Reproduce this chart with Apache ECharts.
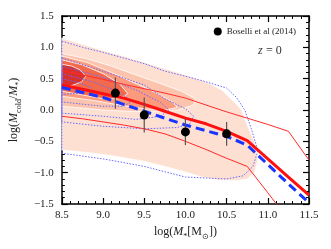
<!DOCTYPE html>
<html><head><meta charset="utf-8">
<script src="https://cdn.jsdelivr.net/npm/echarts@6/dist/echarts.min.js"></script>
<style>html,body{margin:0;padding:0;background:#fff}#c{width:331px;height:249px}</style>
</head><body><div id="c"></div>
<script>
// ---- data ----
const xTicks = [8.5, 9.0, 9.5, 10.0, 10.5, 11.0, 11.5];
const yTicks = [-1.5, -1.0, -0.5, 0.0, 0.5, 1.0, 1.5];
const massBins = [8.5, 8.75, 9.0, 9.25, 9.5, 9.75, 10.0, 10.25, 10.5, 10.75, 11.0, 11.25, 11.5];
const redMedian = [0.40, 0.33, 0.26, 0.19, 0.09, -0.02, -0.13, -0.22, -0.34, -0.49, -0.78, -1.07, -1.36];
const redUpper = [0.63, 0.56, 0.49, 0.41, 0.34, 0.27, 0.19, 0.08, -0.03, -0.13, -0.23, -0.34, -0.80];
const redLower = [-0.10, -0.14, -0.19, -0.24, -0.30, -0.38, -0.50, -0.63, -0.77, -0.90, -1.32, -1.75, null];
const blueMedian = [0.36, 0.28, 0.20, 0.09, -0.02, -0.13, -0.24, -0.33, -0.42, -0.56, -0.87, -1.18, -1.48];
const obsX = [9.15, 9.5, 10.0, 10.5];
const obsY = [0.27, -0.08, -0.35, -0.38];
const obsErr = [0.25, 0.28, 0.21, 0.19];
const fillL1 = [[8.5,1.15],[8.75,1.05],[9.0,0.95],[9.25,0.86],[9.5,0.76],[9.75,0.66],[10.0,0.56],[10.25,0.45],[10.44,0.32],[10.6,0.12],[10.68,0.0],[10.77,-0.3],[10.85,-0.55],[10.88,-0.8],[10.84,-1.0],[10.75,-1.1],[10.6,-1.13],[10.4,-1.12],[10.2,-1.07],[10.0,-0.99],[9.75,-0.9],[9.5,-0.82],[9.25,-0.76],[9.0,-0.71],[8.75,-0.67],[8.5,-0.64]];
const fillL2 = [[8.5,0.9],[8.8,0.82],[9.1,0.7],[9.4,0.56],[9.7,0.42],[9.95,0.3],[10.12,0.18],[10.1,0.08],[9.9,0.0],[9.6,-0.02],[9.3,-0.02],[9.0,0.0],[8.75,0.03],[8.5,0.06]];
const fillL3 = [[8.5,0.86],[8.8,0.76],[9.1,0.6],[9.4,0.42],[9.65,0.27],[9.85,0.12],[9.9,0.04],[9.75,0.0],[9.5,0.02],[9.2,0.08],[8.9,0.15],[8.5,0.22]];
const fillL4 = [[8.5,0.8],[8.75,0.72],[9.0,0.58],[9.2,0.42],[9.3,0.26],[9.2,0.18],[9.0,0.18],[8.75,0.24],[8.5,0.3]];
const fillL5 = [[8.5,0.73],[8.62,0.7],[8.72,0.64],[8.79,0.54],[8.74,0.45],[8.62,0.39],[8.5,0.35]];
const blueC1 = [[8.5,1.1],[8.75,1.0],[9.0,0.92],[9.25,0.83],[9.5,0.74],[9.75,0.62],[10.0,0.54],[10.25,0.45],[10.5,0.35],[10.62,0.2],[10.72,0.0],[10.8,-0.3],[10.88,-0.65],[10.82,-0.9],[10.7,-1.05],[10.5,-1.1],[10.0,-1.07],[9.5,-0.9],[9.0,-0.78],[8.5,-0.69]];
const blueC2 = [[8.5,0.83],[9.0,0.62],[9.5,0.4],[9.75,0.18],[10.0,0.02],[10.1,-0.1],[10.05,-0.22],[9.9,-0.28],[9.5,-0.3],[9.0,-0.26],[8.5,-0.19]];
const blueC3 = [[8.5,0.7],[9.0,0.52],[9.4,0.32],[9.7,0.12],[9.8,0.0],[9.7,-0.1],[9.4,-0.15],[9.0,-0.1],[8.5,-0.05]];
const blueC4 = [[8.5,0.58],[8.9,0.44],[9.2,0.28],[9.35,0.14],[9.25,0.06],[9.0,0.06],[8.7,0.1],[8.5,0.13]];
const blueC5 = [[8.5,0.5],[8.7,0.44],[8.85,0.36],[8.75,0.27],[8.5,0.25]];
const legendLabel = 'Boselli et al (2014)';

// ---- chart ----
const SERIF = 'Liberation Serif';
const fills = [fillL1, fillL2, fillL3, fillL4, fillL5];
const fillColors = ['#fde0d2', '#fcc4ac', '#fb9a7c', '#f26a4d', '#d9302a'];
const blueContours = [blueC1, blueC2, blueC3, blueC4, blueC5];
const zip = (xs, ys) => xs.map((x, i) => [x, ys[i]]);
const fmt = v => v.toFixed(1).replace('-', '\u2212');

const axisCommon = {
  type: 'value', splitLine: {show: false},
  axisLine: {show: true, onZero: false, lineStyle: {color: '#000', width: 1.5}},
  axisTick: {show: true, inside: true, length: 6, lineStyle: {color: '#000', width: 1.2}},
  minorTick: {show: true, splitNumber: 5, length: 3, lineStyle: {color: '#000', width: 1}},
  minorSplitLine: {show: false}
};
const xBase = Object.assign({}, axisCommon, {min: xTicks[0], max: xTicks[xTicks.length-1], interval: 0.5});
const yBase = Object.assign({}, axisCommon, {min: yTicks[0], max: yTicks[yTicks.length-1], interval: 0.5});

const rich = {
  n: {fontFamily: SERIF, fontSize: 12, color: '#222', lineHeight: 18, verticalAlign: 'middle'},
  i: {fontFamily: SERIF, fontSize: 12, fontStyle: 'italic', color: '#222', lineHeight: 18, verticalAlign: 'middle'},
  s: {fontFamily: SERIF, fontSize: 8, color: '#222', lineHeight: 9, verticalAlign: 'bottom'}
};

const series = [];
series.push({
  type: 'custom', clip: true, z: 1,
  data: fills.map((p, i) => [i, 0]),
  renderItem: (params, api) => {
    const poly = fills[params.dataIndex];
    return {type: 'polygon', shape: {points: poly.map(p => api.coord(p))},
      style: {fill: fillColors[params.dataIndex], stroke: '#fff', lineWidth: 0.8}};
  },
  silent: true
});
blueContours.forEach(c => series.push({
  type: 'line', data: c.concat([c[0]]), symbol: 'none', z: 2, silent: true,
  lineStyle: {color: '#6a6aff', width: 1, type: [1.5, 1.5]}
}));
[redUpper, redLower].forEach(arr => series.push({
  type: 'line', data: zip(massBins, arr).filter(d => d[1] !== null), symbol: 'none', z: 3, silent: true,
  lineStyle: {color: '#ff2a2a', width: 1}
}));
series.push({type: 'line', data: zip(massBins, redMedian), symbol: 'none', z: 4, silent: true,
  lineStyle: {color: '#ff1010', width: 3}});
series.push({type: 'line', data: zip(massBins, blueMedian), symbol: 'none', z: 5, silent: true,
  lineStyle: {color: '#1a35ff', width: 3, type: [9, 5]}});
series.push({
  type: 'custom', z: 6, silent: true,
  data: obsX.map((x, i) => [x, obsY[i], obsErr[i]]),
  renderItem: (params, api) => {
    const x = api.value(0), y = api.value(1), e = api.value(2);
    const a = api.coord([x, y - e]), b = api.coord([x, y + e]);
    return {type: 'line', shape: {x1: a[0], y1: a[1], x2: b[0], y2: b[1]},
      style: {stroke: '#555', lineWidth: 1.2}};
  }
});
series.push({type: 'scatter', name: legendLabel, data: zip(obsX, obsY), symbol: 'circle', symbolSize: 9,
  itemStyle: {color: '#000', opacity: 1}, z: 7});

const option = {
  animation: false,
  grid: {left: 57, right: 22, top: 16, bottom: 45},
  legend: {data: [{name: legendLabel, icon: 'circle', itemStyle: {color: '#000', opacity: 1}}], right: 30, top: 22, itemWidth: 8, itemHeight: 8, itemGap: 5,
    textStyle: {fontFamily: SERIF, fontSize: 9, color: '#222'}},
  xAxis: [
    Object.assign({}, xBase, {position: 'bottom',
      axisLabel: {fontFamily: SERIF, fontSize: 11, color: '#222', margin: 6, formatter: fmt},
      name: '{n|log(}{i|M}{s|*}{n|[M}{s|\u2299}{n|])}', nameLocation: 'middle', nameGap: 16,
      nameTextStyle: {rich: rich}}),
    Object.assign({}, xBase, {position: 'top', axisLabel: {show: false}})
  ],
  yAxis: [
    Object.assign({}, yBase, {position: 'left',
      axisLabel: {fontFamily: SERIF, fontSize: 11, color: '#222', margin: 8, formatter: fmt},
      name: '{n|log(}{i|M}{s|cold}{n|/}{i|M}{s|*}{n|)}', nameLocation: 'middle', nameGap: 38, nameRotate: 90,
      nameTextStyle: {rich: rich}}),
    Object.assign({}, yBase, {position: 'right', axisLabel: {show: false}})
  ],
  graphic: [{type: 'text', left: 258, top: 45,
    style: {text: '{i|z} {n|= 0}', rich: {
      i: {fontFamily: SERIF, fontSize: 12, fontStyle: 'italic', fill: '#333'},
      n: {fontFamily: SERIF, fontSize: 12, fill: '#333'}}}}],
  series: series
};
const chart = echarts.init(document.getElementById('c'), null, {renderer: 'canvas'});
chart.setOption(option);
</script></body></html>
